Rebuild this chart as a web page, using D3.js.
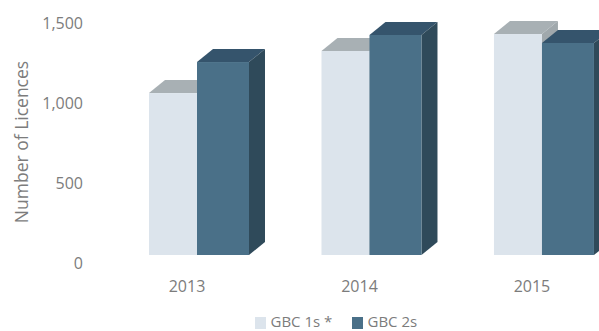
<!DOCTYPE html>
<html>
<head>
<meta charset="utf-8">
<script src="https://cdn.jsdelivr.net/npm/d3@7"></script>
<style>
html,body{margin:0;padding:0;background:#fff;overflow:hidden}
text{font-family:"Open Sans",sans-serif;fill:#7c7c7c}
</style>
</head>
<body>
<svg id="chart" width="599" height="331"></svg>
<script>
const years = ["2013", "2014", "2015"];
const seriesNames = ["GBC 1s *", "GBC 2s"];
const gbc1s = [1012, 1275, 1381];
const gbc2s = [1206, 1375, 1325];
const yTicks = [0, 500, 1000, 1500];

const frontColors = ["#dce4ec", "#4a7088"];
const topColors = ["#a8b0b4", "#35546c"];
const sideColors = ["#a0a8ac", "#2f4a5a"];

const depthX = 16, depthY = 13;
const labelDrop = 9;

const svg = d3.select("#chart");
const x = d3.scaleBand().domain(years).range([149, 594]).paddingInner(0.42).paddingOuter(0);
const y = d3.scaleLinear().domain([0, 1500]).range([255, 15]);
const barOffset = d3.scaleOrdinal().domain(seriesNames).range([0, 48]);
const barWidth = d3.scaleOrdinal().domain(seriesNames).range([48, 52]);

// Value axis: labels only, with no line or tick marks
const axis = d3.axisLeft(y).tickValues(yTicks).tickFormat(d3.format(",")).tickSize(0).tickPadding(0);
const axisG = svg.append("g").attr("transform", "translate(83,0)").call(axis);
axisG.select(".domain").remove();
axisG.selectAll("text").attr("font-size", 16).attr("dy", null)
  .attr("dominant-baseline", "middle").attr("y", labelDrop);
axisG.attr("font-family", null);

svg.append("text").attr("transform", "translate(23,142) rotate(-90)")
  .attr("text-anchor", "middle").attr("dominant-baseline", "middle")
  .attr("font-size", 17.5).text("Number of Licences");

// One extruded bar: front face, top face and right side face
const path = d3.line();
[gbc1s, gbc2s].forEach((values, s) => {
  const name = seriesNames[s];
  const g = svg.append("g").attr("class", "series");
  years.forEach((year, i) => {
    const x0 = x(year) + barOffset(name);
    const x1 = x0 + barWidth(name);
    const yT = y(values[i]);
    const yB = y(0);
    g.append("path").attr("fill", topColors[s]).attr("d", path([
      [x0, yT], [x0 + depthX, yT - depthY], [x1 + depthX, yT - depthY], [x1, yT]
    ]) + "Z");
    g.append("path").attr("fill", sideColors[s]).attr("d", path([
      [x1, yT], [x1 + depthX, yT - depthY], [x1 + depthX, yB - depthY], [x1, yB]
    ]) + "Z");
    g.append("rect").attr("x", x0).attr("y", yT).attr("width", x1 - x0).attr("height", yB - yT)
      .attr("fill", frontColors[s]);
  });
});

// Category labels
svg.append("g").selectAll("text").data(years).join("text")
  .attr("x", d => x(d) + x.bandwidth() / 2 - 12)
  .attr("y", 288)
  .attr("text-anchor", "middle").attr("dominant-baseline", "middle")
  .attr("font-size", 16).text(d => d);

// Legend along the bottom edge
const legendX = [255, 352];
const legend = svg.append("g").selectAll("g").data(seriesNames).join("g")
  .attr("transform", (d, i) => `translate(${legendX[i]},317)`);
legend.append("rect").attr("width", 11).attr("height", 12).attr("fill", (d, i) => frontColors[i]);
legend.append("text").attr("x", 15.5).attr("y", 9.5)
  .attr("font-size", 15).text(d => d);
</script>
</body>
</html>
